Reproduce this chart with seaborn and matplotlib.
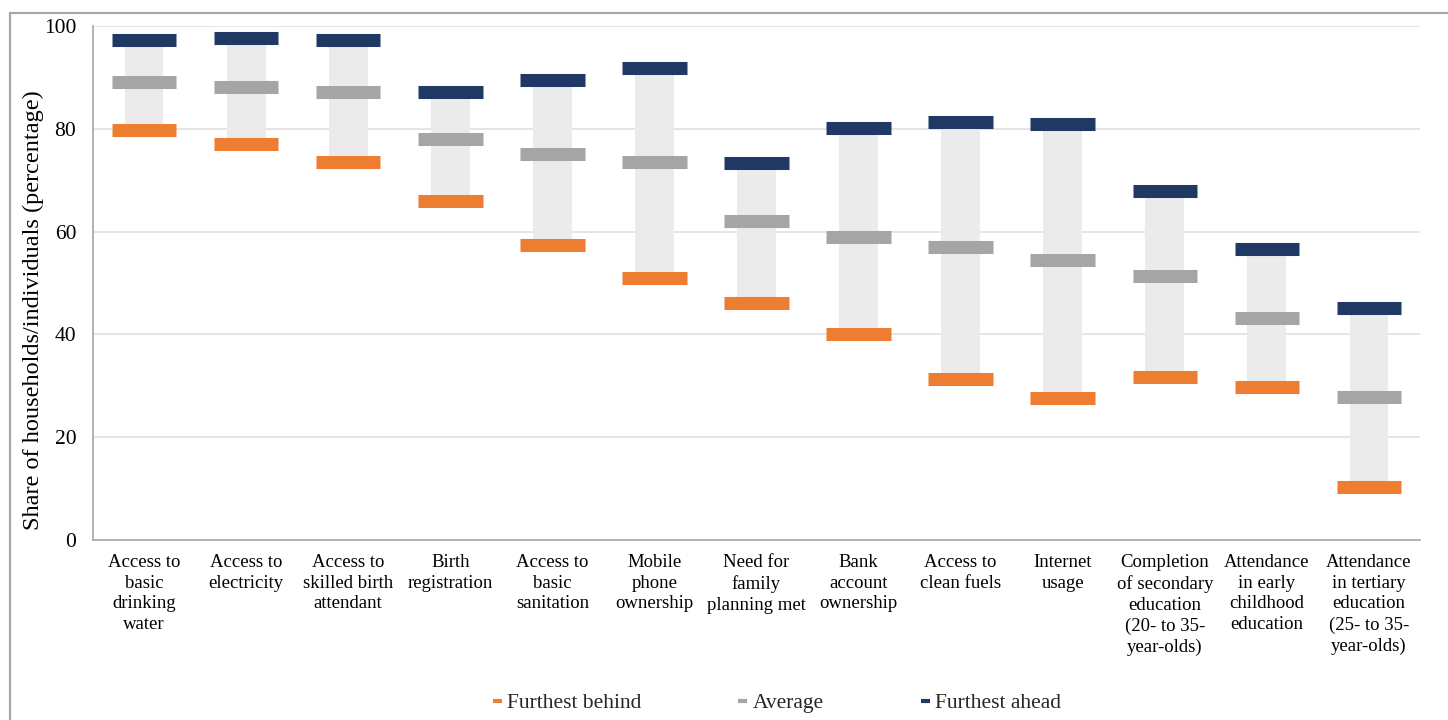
import matplotlib
matplotlib.use("Agg")
import matplotlib.pyplot as plt
import matplotlib.patches as mpatches
from matplotlib.lines import Line2D
import numpy as np
import pandas as pd
import seaborn as sns

categories = [
    "Access to\nbasic\ndrinking\nwater",
    "Access to\nelectricity",
    "Access to\nskilled birth\nattendant",
    "Birth\nregistration",
    "Access to\nbasic\nsanitation",
    "Mobile\nphone\nownership",
    "Need for\nfamily\nplanning met",
    "Bank\naccount\nownership",
    "Access to\nclean fuels",
    "Internet\nusage",
    "Completion\nof secondary\neducation\n(20- to 35-\nyear-olds)",
    "Attendance\nin early\nchildhood\neducation",
    "Attendance\nin tertiary\neducation\n(25- to 35-\nyear-olds)",
]
furthest_behind = [79.8, 77.0, 73.5, 66.0, 57.3, 51.0, 46.1, 40.1, 31.4, 27.6, 31.7, 29.8, 10.4]
average = [89.1, 88.1, 87.2, 78.0, 75.1, 73.5, 62.1, 58.9, 57.0, 54.5, 51.4, 43.2, 27.8]
furthest_ahead = [97.3, 97.7, 97.3, 87.2, 89.5, 91.8, 73.3, 80.2, 81.3, 80.9, 67.9, 56.6, 45.1]
series_names = ["Furthest behind", "Average", "Furthest ahead"]
series_colors = ["#ed7d31", "#a5a5a5", "#203864"]
y_ticks = [0, 20, 40, 60, 80, 100]

sns.set_theme(style="white")
plt.rcParams["font.family"] = ["Liberation Serif", "DejaVu Serif"]

fig = plt.figure(figsize=(14.48, 7.2), dpi=100)
ax = fig.add_axes([93 / 1448, 1 - 540 / 720, (1420 - 93) / 1448, (540 - 26) / 720])

x = np.arange(len(categories))
lo = np.array(furthest_behind)
hi = np.array(furthest_ahead)

# range bars
ax.bar(x, hi - lo, bottom=lo, width=0.38, color="#ebebeb", zorder=2, linewidth=0)

# markers
df = pd.DataFrame({
    "pos": np.concatenate([x, x, x]),
    "value": np.concatenate([furthest_behind, average, furthest_ahead]),
    "series": np.repeat(series_names, len(categories)),
})
sns.scatterplot(data=df, x="pos", y="value", hue="series", hue_order=series_names,
                palette=series_colors, marker="_", s=46.5 ** 2, linewidth=9.4,
                legend=False, ax=ax, zorder=3)

ax.set_xlim(-0.5, len(categories) - 0.5)
ax.set_ylim(0, 100)
ax.set_yticks(y_ticks)
ax.set_yticklabels([str(v) for v in y_ticks], fontsize=15.5)
ax.yaxis.grid(True, color="#e3e3e3", linewidth=1.3, zorder=0)
ax.set_axisbelow(True)

ax.set_xticks(x)
ax.set_xticklabels(categories, fontsize=13.5, linespacing=1.29, va="top")
ax.set_xticks(np.arange(len(categories) + 1) - 0.5, minor=True)
ax.tick_params(axis="x", which="major", length=0, pad=10)
ax.tick_params(axis="x", which="minor", length=5, width=1, color="#a6a6a6", direction="out")
ax.tick_params(axis="y", which="major", length=6, width=1, color="#a6a6a6", direction="out", pad=6, labelcolor="black")
ax.tick_params(axis="x", labelcolor="black")

ax.set_xlabel("")
ax.set_ylabel("Share of households/individuals (percentage)", fontsize=17.5, color="black")
ax.yaxis.label.set_va("center")
ax.yaxis.set_label_coords((33 - 93) / 1327, (540 - 310) / 514)

for side in ["top", "right"]:
    ax.spines[side].set_visible(False)
for side in ["left", "bottom"]:
    ax.spines[side].set_color("#a6a6a6")
    ax.spines[side].set_linewidth(1.2)

# legend
handles = [Line2D([0], [0], color=c, linewidth=3, solid_capstyle="butt") for c in series_colors]
fig.legend(handles, series_names, loc="center", bbox_to_anchor=(777 / 1448, 1 - 703 / 720),
           ncol=3, frameon=False, fontsize=15.5, handlelength=0.42, handletextpad=0.25,
           columnspacing=4.5)

# outer frame
frame = mpatches.Rectangle((10 / 1448, -0.05), 1.1, (720 - 13) / 720 + 0.05,
                           transform=fig.transFigure, fill=False, edgecolor="#a6a6a6",
                           linewidth=1.6, zorder=10)
fig.patches.append(frame)

fig.savefig("out.png", dpi=100)
